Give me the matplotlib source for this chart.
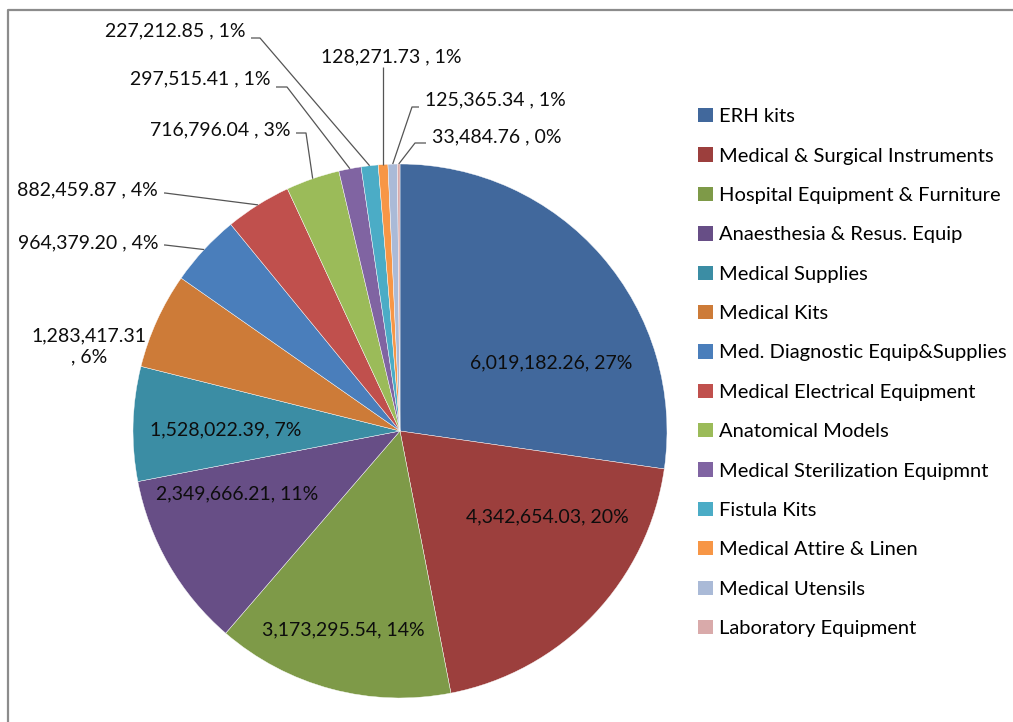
import numpy as np
import matplotlib
matplotlib.use("Agg")
import matplotlib.pyplot as plt
from matplotlib.patches import Patch

plt.rcParams["font.family"] = ["Lato", "DejaVu Sans"]

categories = ["ERH kits", "Medical & Surgical Instruments", "Hospital Equipment & Furniture",
              "Anaesthesia & Resus. Equip", "Medical Supplies", "Medical Kits",
              "Med. Diagnostic Equip&Supplies", "Medical Electrical Equipment",
              "Anatomical Models", "Medical Sterilization Equipmnt", "Fistula Kits",
              "Medical Attire & Linen", "Medical Utensils", "Laboratory Equipment"]
values = [6019182.26, 4342654.03, 3173295.54, 2349666.21, 1528022.39, 1283417.31,
          964379.20, 882459.87, 716796.04, 297515.41, 227212.85, 128271.73,
          125365.34, 33484.76]
colors = ["#41689C", "#9C3F3D", "#7E9A48", "#674E86", "#3B8DA4", "#CD7B38",
          "#4A7EBB", "#C0504D", "#9BBB59", "#8064A2", "#4BACC6", "#F79646",
          "#AABAD7", "#D9AAAA"]

W, H = 1013, 722
CX, CY, R = 400, 431, 267

fig = plt.figure(figsize=(W / 100, H / 100), dpi=100)
ax = fig.add_axes([0, 0, 1, 1])

def px(x, y):
    return (x - CX) / R, (CY - y) / R

wedges, _ = ax.pie(values, colors=colors, startangle=90, counterclock=False,
                   radius=1, center=(0, 0), frame=True,
                   wedgeprops=dict(edgecolor="white", linewidth=0.3))
ax.set_xlim(-CX / R, (W - CX) / R)
ax.set_ylim(-(H - CY) / R, CY / R)
ax.axis("off")

total = sum(values)
pcts = [round(v / total * 100) for v in values]

def lab(i, sep):
    return f"{values[i]:,.2f}{sep}{pcts[i]}%"

FS = 14
TXT = "#0d0d0d"
# inside labels: (index, pixel centre)
inside = [(0, 551, 363), (1, 547, 517), (2, 343, 630), (3, 237, 494), (4, 226, 430)]
for i, x, y in inside:
    ax.text(*px(x, y), lab(i, ", "), ha="center", va="center", fontsize=FS, color=TXT)

# 1,283,417.31 on two lines
ax.text(*px(89, 346), f"{values[5]:,.2f}\n, {pcts[5]}%", ha="center", va="center",
        fontsize=FS, color=TXT, linespacing=1.3)

# outside labels with leader lines: index, text anchor (x, y), ha, elbow point
outside = [
    (6, 158, 243, "right", (165, 245)),
    (7, 158, 190, "right", (165, 193)),
    (8, 290, 130, "right", (306, 133)),
    (9, 270, 79, "right", (287, 87)),
    (10, 245, 31, "right", (260, 38)),
    (11, 391, 57, "center", (383, 67)),
    (12, 425, 100, "left", (412, 107)),
    (13, 432, 137, "left", (415, 143)),
]
for i, x, y, ha, elbow in outside:
    w = wedges[i]
    mid = np.deg2rad((w.theta1 + w.theta2) / 2)
    ax_pt = (np.cos(mid), np.sin(mid))
    ex, ey = px(*elbow)
    if ha == "right":
        sx, sy = px(x + 6, elbow[1])
        xs, ys = [sx, ex, ax_pt[0]], [sy, ey, ax_pt[1]]
    elif ha == "left":
        sx, sy = px(x - 6, elbow[1])
        xs, ys = [sx, ex, ax_pt[0]], [sy, ey, ax_pt[1]]
    else:
        xs, ys = [ax_pt[0], ax_pt[0]], [ey, ax_pt[1]]
    ax.plot(xs, ys, color="#555555", lw=0.9, solid_capstyle="butt")
    ax.text(*px(x, y), lab(i, " , "), ha=ha, va="center", fontsize=FS, color=TXT)

# frame
fig.add_artist(plt.Line2D([7.5 / W, 7.5 / W, 1.0], [0, 1 - 10 / H, 1 - 10 / H],
                          transform=fig.transFigure, color="#8c8c8c", lw=1.6))

handles = [Patch(facecolor=c, edgecolor="none") for c in colors]
fig.legend(handles, categories, loc="upper left", bbox_to_anchor=(690 / W, 1 - 100 / H),
           frameon=False, fontsize=14.5, handlelength=0.72, handleheight=0.72,
           handletextpad=0.3, labelspacing=1.1, borderaxespad=0)

fig.savefig("out.png", dpi=100, facecolor="white")
